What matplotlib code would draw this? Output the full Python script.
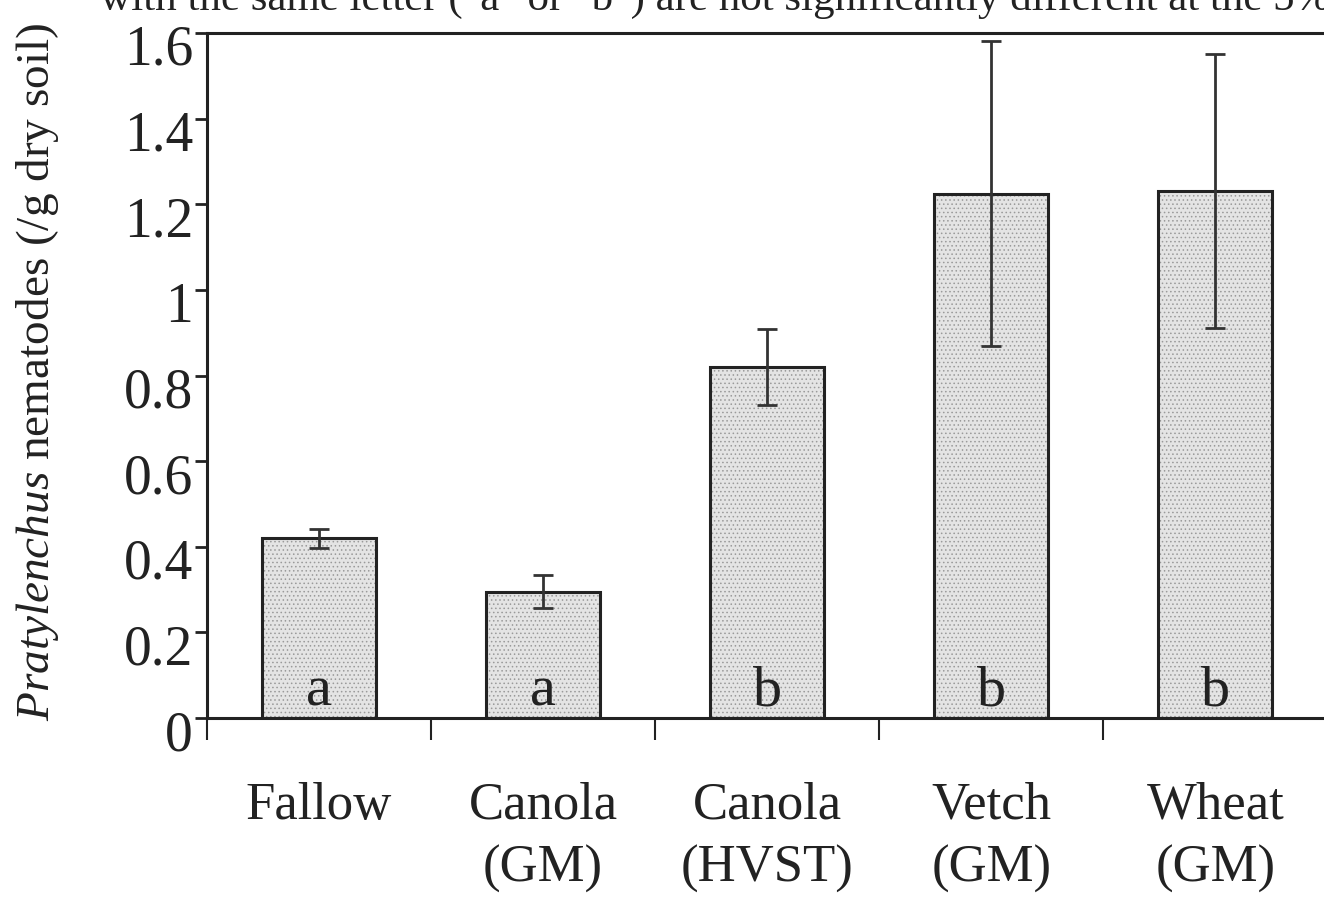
import matplotlib
matplotlib.use("Agg")
from matplotlib import pyplot as plt
import matplotlib.transforms as mtransforms
import numpy as np

# data: nematode counts per treatment
treatments = ["Fallow", "Canola\n(GM)", "Canola\n(HVST)", "Vetch\n(GM)", "Wheat\n(GM)"]
means = [0.42, 0.295, 0.82, 1.225, 1.232]
errors = [0.022, 0.038, 0.088, 0.357, 0.32]
letters = ["a", "a", "b", "b", "b"]
y_ticks = [0, 0.2, 0.4, 0.6, 0.8, 1, 1.2, 1.4, 1.6]
y_tick_labels = ["0", "0.2", "0.4", "0.6", "0.8", "1", "1.2", "1.4", "1.6"]

plt.rcParams["font.family"] = ["Liberation Serif", "DejaVu Serif"]
plt.rcParams["mathtext.fontset"] = "custom"
plt.rcParams["mathtext.rm"] = "Liberation Serif"
plt.rcParams["mathtext.it"] = "Liberation Serif:italic"
plt.rcParams["hatch.linewidth"] = 0.6

fig = plt.figure(figsize=(13.24, 8.99), dpi=100)
ax = fig.add_axes([0.1563, 0.2013, 0.8462, 0.762])

x = np.arange(len(treatments))

# stippled fill, then the outline on top
ax.bar(x, means, width=0.51, color="#e4e4e4", edgecolor="#9a9a9a", hatch="....", linewidth=0, zorder=2)
ax.bar(x, means, width=0.51, fill=False, edgecolor="#222222", linewidth=2.2, zorder=3)
ax.errorbar(x, means, yerr=errors, fmt="none", ecolor="#333333", elinewidth=2, capsize=7, capthick=2, zorder=4)

for xi, letter in zip(x, letters):
    ax.text(xi, 0.03, letter, ha="center", va="baseline", fontsize=42, color="#222222", zorder=5)

ax.set_xlim(-0.5, 4.5)
ax.set_ylim(0, 1.6)

ax.set_yticks(y_ticks)
ax.set_yticklabels(y_tick_labels)
ax.tick_params(axis="y", direction="out", length=9, width=2, labelsize=40, pad=1, colors="#222222")
# the numbers sit a little below their ticks
shift = mtransforms.ScaledTranslation(0, -12 / 100, fig.dpi_scale_trans)
for lbl in ax.get_yticklabels():
    lbl.set_transform(lbl.get_transform() + shift)

# major x ticks mark the boundaries, minor ticks carry the names
ax.set_xticks(np.arange(-0.5, 4.0, 1.0))
ax.set_xticklabels([])
ax.tick_params(axis="x", which="major", direction="out", length=16, width=1.5, colors="#222222")
ax.set_xticks(x, minor=True)
ax.set_xticklabels(treatments, minor=True, linespacing=1.4)
ax.tick_params(axis="x", which="minor", length=0, labelsize=38, pad=46, colors="#222222")

for spine in ax.spines.values():
    spine.set_linewidth(2.2)
    spine.set_color("#222222")

ax.set_ylabel(r"$\it{Pratylenchus}$ nematodes (/g dry soil)", fontsize=34, color="#222222")
ax.yaxis.set_label_coords(-0.13, 0.505)

fig.text(0.0755, 1 - 10 / 899, 'with the same letter ("a" or "b") are not significantly different at the 5% level',
         fontsize=31, color="#222222", va="baseline", ha="left")

fig.savefig("out.png", dpi=100)
